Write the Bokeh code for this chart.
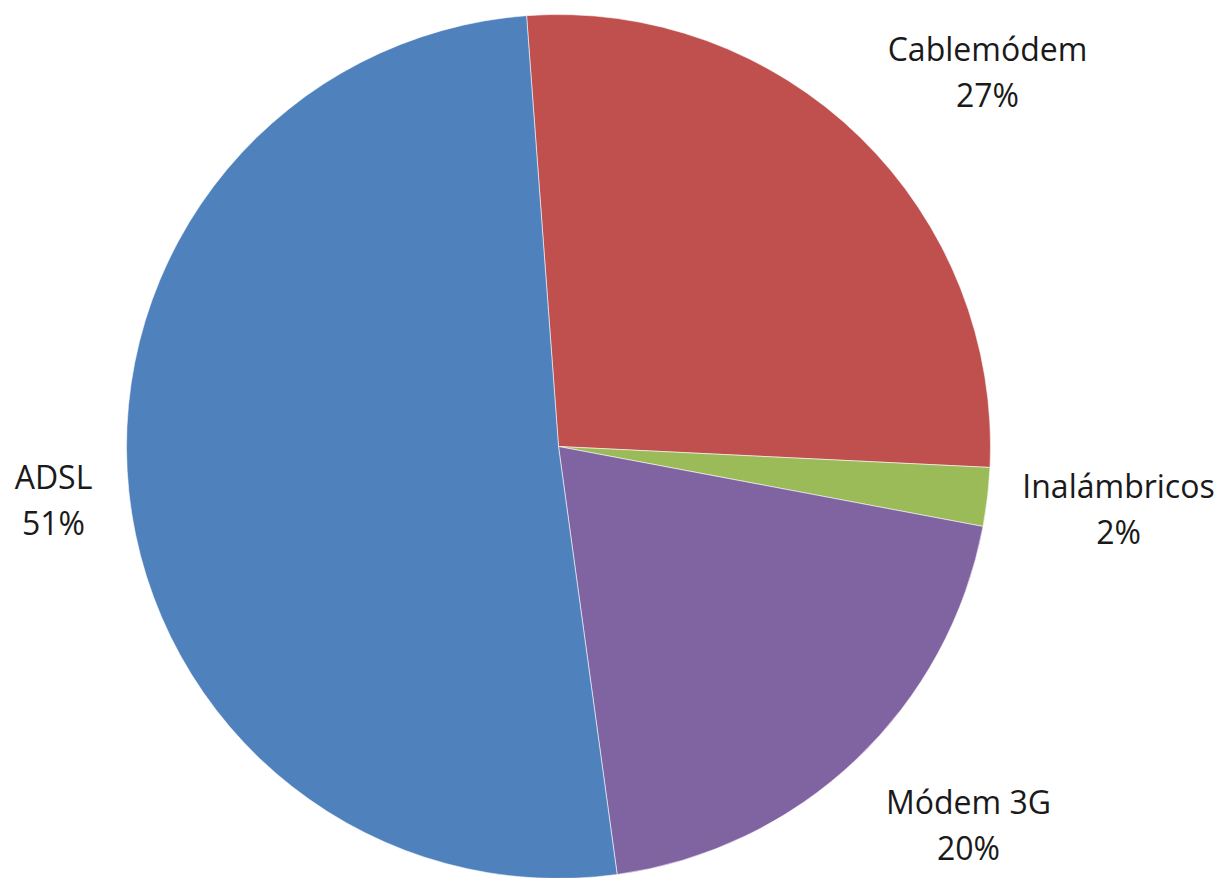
import math
from bokeh.plotting import figure
from bokeh.models import Range1d, ColumnDataSource
from bokeh.core.properties import value
from bokeh.embed import file_html
from bokeh.resources import INLINE

# ---- data ----
categories = ["Cablemódem", "Inalámbricos", "Módem 3G", "ADSL"]
shares = [26.95, 2.19, 19.87, 50.99]
colors = ["#C0504D", "#9BBB59", "#8064A2", "#4F81BD"]

# ---- layout (screen pixel coordinates of the picture) ----
W, H = 1218, 878
OFF = 0
cx, cy, R = 558, 446, 432
first_angle_deg = 94.24
label_pos = [(987, 48), (1118, 485), (968, 801), (53, 476)]
line_gap = 46

total = sum(shares)
starts, ends = [], []
a = math.radians(first_angle_deg)
for v in shares:
    span = v / total * 2 * math.pi
    starts.append(a)
    ends.append(a - span)
    a -= span

p = figure(width=W, height=H, output_backend="svg", toolbar_location=None,
           x_range=Range1d(OFF, OFF + W), y_range=Range1d(-(OFF + H), -OFF),
           min_border=0, outline_line_color=None, background_fill_color="white",
           border_fill_color="white")
p.axis.visible = False
p.grid.visible = False

src = ColumnDataSource(dict(x=[cx] * len(shares), y=[-cy] * len(shares),
                            start=starts, end=ends, color=colors))
p.wedge(x="x", y="y", radius=R, start_angle="start", end_angle="end",
        direction="clock", fill_color="color", line_color="white",
        line_width=0.8, line_alpha=0.7, source=src)

names_src = ColumnDataSource(dict(
    x=[lp[0] for lp in label_pos], y=[-lp[1] for lp in label_pos],
    t=categories))
pct_src = ColumnDataSource(dict(
    x=[lp[0] for lp in label_pos], y=[-(lp[1] + line_gap) for lp in label_pos],
    t=[f"{round(v / total * 100)}%" for v in shares]))

for s in (names_src, pct_src):
    p.text(x="x", y="y", text="t", source=s, text_align="center",
           text_baseline="alphabetic", text_font=value("Open Sans"),
           text_font_size="32px", text_color="#1a1a1a")

open("out.html", "w").write(file_html(p, INLINE))
